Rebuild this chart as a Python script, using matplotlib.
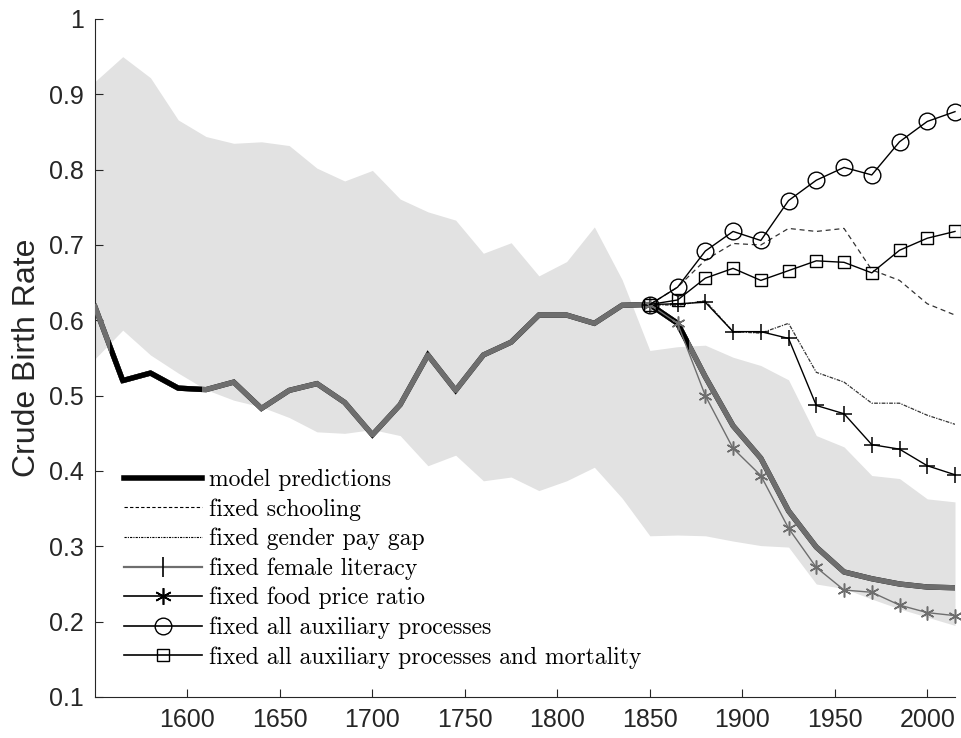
import matplotlib
matplotlib.use("Agg")
import matplotlib.pyplot as plt
from matplotlib.lines import Line2D
from matplotlib.patches import Rectangle
from matplotlib.ticker import FuncFormatter
import numpy as np

# ---------------- data ----------------
years = list(range(1550, 2016, 15))          # 32 points, 1550..2015
years_cf = list(range(1850, 2016, 15))       # counterfactual period, 1850..2015

model = [0.618, 0.520, 0.530, 0.510, 0.508, 0.518, 0.483, 0.507, 0.516, 0.491,
         0.448, 0.488, 0.554, 0.507, 0.554, 0.571, 0.607, 0.607, 0.596, 0.620,
         0.621, 0.596, 0.525, 0.460, 0.417, 0.347, 0.299, 0.266, 0.257, 0.250,
         0.246, 0.245]

band_upper = [0.917, 0.950, 0.922, 0.866, 0.844, 0.835, 0.837, 0.832, 0.802, 0.785,
              0.799, 0.761, 0.744, 0.733, 0.689, 0.703, 0.659, 0.678, 0.724, 0.654,
              0.560, 0.565, 0.567, 0.551, 0.540, 0.521, 0.447, 0.432, 0.394, 0.390,
              0.363, 0.359]
band_lower = [0.549, 0.587, 0.554, 0.530, 0.508, 0.494, 0.485, 0.471, 0.452, 0.450,
              0.455, 0.447, 0.407, 0.421, 0.387, 0.392, 0.374, 0.387, 0.405, 0.364,
              0.314, 0.315, 0.314, 0.307, 0.301, 0.299, 0.250, 0.244, 0.230, 0.217,
              0.206, 0.195]

fixed_schooling = [0.621, 0.644, 0.680, 0.702, 0.700, 0.722, 0.718, 0.722, 0.667,
                   0.653, 0.622, 0.607]
fixed_gender_pay_gap = [0.621, 0.620, 0.626, 0.585, 0.583, 0.596, 0.531, 0.518,
                        0.490, 0.490, 0.474, 0.462]
fixed_female_literacy = [0.621, 0.622, 0.624, 0.585, 0.585, 0.576, 0.487, 0.476,
                         0.435, 0.429, 0.407, 0.395]
fixed_food_price = [0.621, 0.596, 0.500, 0.430, 0.394, 0.324, 0.272, 0.242, 0.239,
                    0.222, 0.212, 0.208]
fixed_all_aux = [0.621, 0.644, 0.692, 0.718, 0.706, 0.759, 0.786, 0.803, 0.793,
                 0.837, 0.864, 0.877]
fixed_all_aux_mort = [0.621, 0.627, 0.656, 0.669, 0.653, 0.666, 0.679, 0.677, 0.663,
                      0.693, 0.709, 0.718]

legend_labels = ["model predictions", "fixed schooling", "fixed gender pay gap",
                 "fixed female literacy", "fixed food price ratio",
                 "fixed all auxiliary processes",
                 "fixed all auxiliary processes and mortality"]

x_ticks = [1600, 1650, 1700, 1750, 1800, 1850, 1900, 1950, 2000]
y_ticks = [0.1, 0.2, 0.3, 0.4, 0.5, 0.6, 0.7, 0.8, 0.9, 1.0]

# ---------------- figure ----------------
plt.rcParams['font.family'] = ['Liberation Sans', 'DejaVu Sans']
fig = plt.figure(figsize=(9.62, 7.38), dpi=100)
ax = fig.add_axes([95/962, 41/738, 860/962, 678/738])

GRAY = '#6e6e6e'
BAND = '#e2e2e2'
AST = (6, 2, 0)

ax.fill_between(years, band_lower, band_upper, color=BAND, lw=0, zorder=1)

# thick black model line underneath, gray thick line on top,
# black visible again on two stretches
ax.plot(years, model, color='black', lw=3.8, solid_joinstyle='miter', zorder=2)
ax.plot(years, model, color=GRAY, lw=3.8, solid_joinstyle='round', zorder=3)
for x0, x1 in [(1558, 1608), (1850, 1871)]:
    ln, = ax.plot(years, model, color='black', lw=3.8, solid_joinstyle='round',
                  zorder=3.5)
    ln.set_clip_path(Rectangle((x0, 0), x1 - x0, 2, transform=ax.transData))

ax.plot(years_cf, fixed_schooling, color='#333333', lw=0.9, ls=(0, (4, 3)), zorder=4)
ax.plot(years_cf, fixed_gender_pay_gap, color='#333333', lw=0.9,
        ls=(0, (3, 1, 1, 1)), zorder=4)
ax.plot(years_cf, fixed_female_literacy, color='black', lw=1.0, marker='+',
        ms=11, mew=1.1, zorder=5, clip_on=False)
ax.plot(years_cf, fixed_food_price, color=GRAY, lw=1.0, marker=AST,
        ms=10, mew=1.1, mec=GRAY, zorder=5, clip_on=False)
ax.plot(years_cf, fixed_all_aux, color='black', lw=1.0, marker='o', ms=12,
        mfc='none', mec='black', mew=1.0, zorder=5, clip_on=False)
ax.plot(years_cf, fixed_all_aux_mort, color='black', lw=1.0, marker='s', ms=9,
        mfc='none', mec='black', mew=1.0, zorder=5, clip_on=False)

ax.set_xlim(1550, 2015)
ax.set_ylim(0.1, 1.0)
ax.set_xticks(x_ticks)
ax.set_yticks(y_ticks)
ax.yaxis.set_major_formatter(FuncFormatter(lambda v, p: f"{v:g}"))
for s in ('top', 'right'):
    ax.spines[s].set_visible(False)
for s in ('left', 'bottom'):
    ax.spines[s].set_color('#262626')
    ax.spines[s].set_linewidth(0.8)
ax.tick_params(direction='in', length=6, width=0.8, color='#262626',
               labelsize=18, labelcolor='#262626', pad=8)
ax.set_ylabel('Crude Birth Rate', fontsize=23, color='#262626', labelpad=5)

handles = [
    Line2D([], [], color='black', lw=4),
    Line2D([], [], color='black', lw=0.8, ls=(0, (3, 2))),
    Line2D([], [], color='black', lw=0.8, ls=(0, (2, 1, 1, 1))),
    Line2D([], [], color=GRAY, lw=1.6, marker='|', ms=14, mec='black', mew=1.2),
    Line2D([], [], color='black', lw=1.2, marker=AST, ms=12, mec='black', mew=1.2),
    Line2D([], [], color='black', lw=1.2, marker='o', ms=12, mfc='none', mec='black'),
    Line2D([], [], color='black', lw=1.2, marker='s', ms=9, mfc='none', mec='black'),
]
leg = fig.legend(handles, legend_labels, loc='upper left',
                 bbox_to_anchor=(124/962, 1 - 469/738), frameon=False,
                 prop={'family': 'cmr10', 'size': 17}, handlelength=3.3,
                 handletextpad=0.3, labelspacing=0.3, borderpad=0,
                 borderaxespad=0)

fig.savefig('out.png', dpi=100)
